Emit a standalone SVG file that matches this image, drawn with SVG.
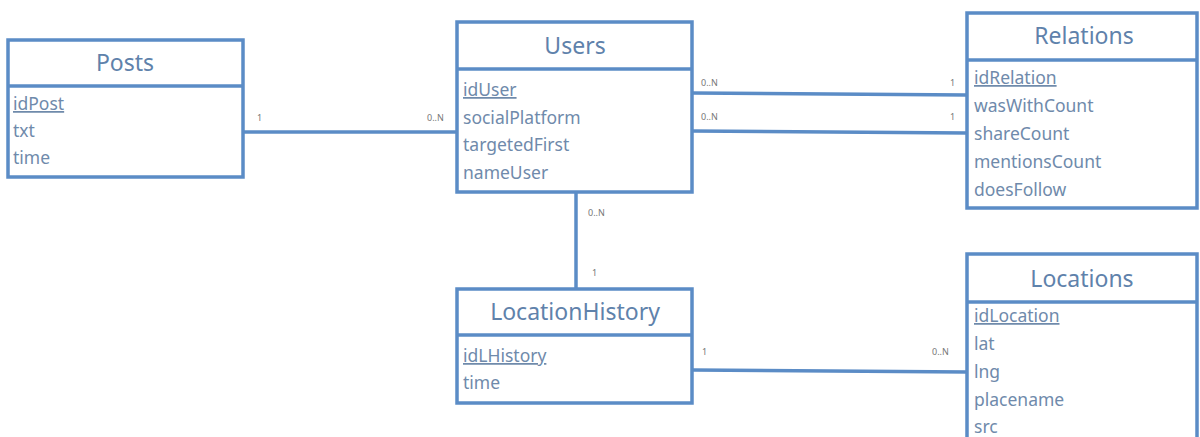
<svg xmlns="http://www.w3.org/2000/svg" width="1200" height="437" viewBox="0 0 1200 437">
<style>
.box{fill:#fff;stroke:#5b8cc6;stroke-width:3.5}
.div{stroke:#5b8cc6;stroke-width:3.5}
.title{font-family:"Noto Sans",sans-serif;font-size:23px;fill:#5f82ab;text-anchor:middle}
.attr{font-family:"Noto Sans",sans-serif;font-size:17.5px;fill:#6f8aab}
.pk{text-decoration:underline}
.conn{stroke:#5b8cc6;stroke-width:3.5;fill:none}
.card{font-family:"Noto Sans",sans-serif;font-size:9px;fill:#777}
</style>
<rect width="1200" height="437" fill="#fff"/>
<g id="connectors">
<line class="conn" x1="243" y1="132" x2="457" y2="132"/>
<line class="conn" x1="692" y1="93" x2="967" y2="95"/>
<line class="conn" x1="692" y1="131" x2="967" y2="133"/>
<line class="conn" x1="576" y1="192" x2="576" y2="289"/>
<line class="conn" x1="692" y1="370" x2="967" y2="372"/>
<text class="card" x="257" y="121">1</text>
<text class="card" x="427" y="121">0..N</text>
<text class="card" x="701" y="86">0..N</text>
<text class="card" x="950" y="86">1</text>
<text class="card" x="701" y="120">0..N</text>
<text class="card" x="950" y="120">1</text>
<text class="card" x="588" y="216">0..N</text>
<text class="card" x="592" y="276">1</text>
<text class="card" x="702" y="355">1</text>
<text class="card" x="932" y="355">0..N</text>
</g>
<g id="posts">
<rect class="box" x="8" y="40" width="235" height="137"/>
<line class="div" x1="8" y1="86" x2="243" y2="86"/>
<text class="title" x="125" y="71">Posts</text>
<text class="attr pk" x="13" y="110">idPost</text>
<text class="attr" x="13" y="137">txt</text>
<text class="attr" x="13" y="164">time</text>
</g>
<g id="users">
<rect class="box" x="457" y="22" width="235" height="170"/>
<line class="div" x1="457" y1="69" x2="692" y2="69"/>
<text class="title" x="575" y="54">Users</text>
<text class="attr pk" x="463" y="96">idUser</text>
<text class="attr" x="463" y="124">socialPlatform</text>
<text class="attr" x="463" y="151">targetedFirst</text>
<text class="attr" x="463" y="179">nameUser</text>
</g>
<g id="relations">
<rect class="box" x="967" y="13" width="230" height="195"/>
<line class="div" x1="967" y1="60" x2="1197" y2="60"/>
<text class="title" x="1084" y="44">Relations</text>
<text class="attr pk" x="974" y="84">idRelation</text>
<text class="attr" x="974" y="112">wasWithCount</text>
<text class="attr" x="974" y="140">shareCount</text>
<text class="attr" x="974" y="168">mentionsCount</text>
<text class="attr" x="974" y="196">doesFollow</text>
</g>
<g id="locationhistory">
<rect class="box" x="457" y="289" width="235" height="114"/>
<line class="div" x1="457" y1="335" x2="692" y2="335"/>
<text class="title" x="575" y="320">LocationHistory</text>
<text class="attr pk" x="463" y="362">idLHistory</text>
<text class="attr" x="463" y="389">time</text>
</g>
<g id="locations">
<rect class="box" x="967" y="254" width="230" height="195"/>
<line class="div" x1="967" y1="302" x2="1197" y2="302"/>
<text class="title" x="1082" y="287">Locations</text>
<text class="attr pk" x="974" y="322">idLocation</text>
<text class="attr" x="974" y="350">lat</text>
<text class="attr" x="974" y="378">lng</text>
<text class="attr" x="974" y="406">placename</text>
<text class="attr" x="974" y="433">src</text>
</g>
</svg>
